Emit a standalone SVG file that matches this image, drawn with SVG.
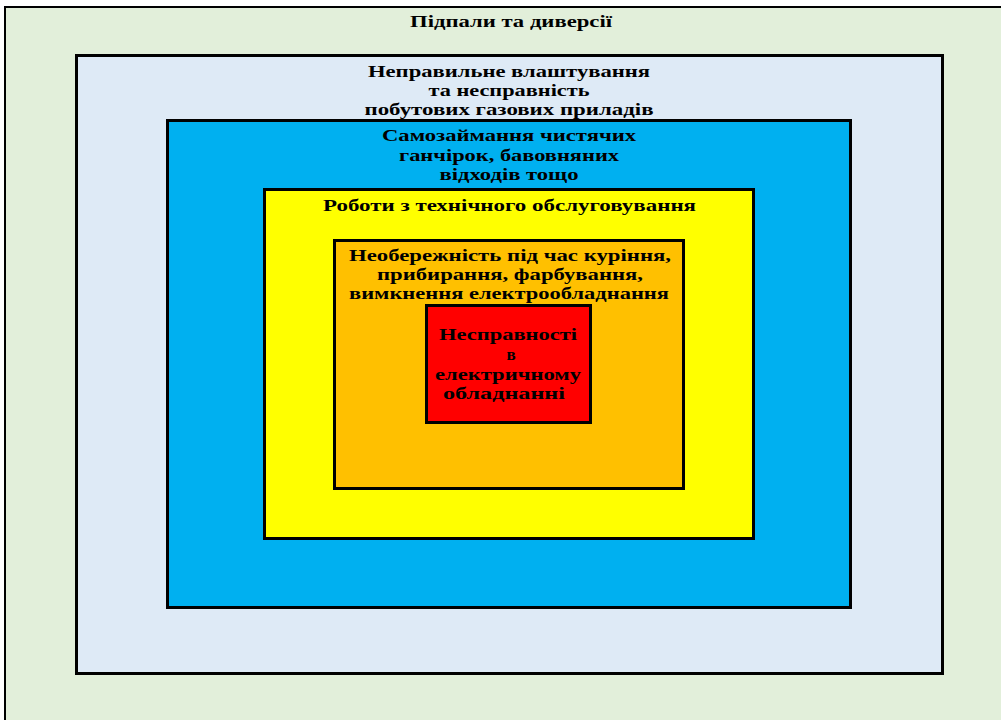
<svg xmlns="http://www.w3.org/2000/svg" width="1001" height="720" viewBox="0 0 1001 720">
<style>
.box{stroke:#000;stroke-width:3}
.t{font-family:"Liberation Serif","Times New Roman",serif;font-weight:bold;font-size:17px;text-anchor:middle;fill:#000}
</style>
<rect width="1001" height="720" fill="#ffffff"/>
<g id="n-outer">
<rect x="5" y="7" width="1010" height="730" fill="#E2EFDA" stroke="#000" stroke-width="2"/>
<text class="t" x="511" y="27" textLength="202" lengthAdjust="spacingAndGlyphs">Підпали та диверсії</text>
</g>
<g id="n-gas">
<rect class="box" x="76.5" y="55.5" width="866" height="618" fill="#DEEAF6"/>
<text class="t" x="509" y="77" textLength="282" lengthAdjust="spacingAndGlyphs">Неправильне влаштування</text>
<text class="t" x="509" y="96" textLength="161" lengthAdjust="spacingAndGlyphs">та несправність</text>
<text class="t" x="509" y="115" textLength="289" lengthAdjust="spacingAndGlyphs">побутових газових приладів</text>
</g>
<g id="n-rags">
<rect class="box" x="167.5" y="120.5" width="683" height="487" fill="#00B0F0"/>
<text class="t" x="509" y="141" textLength="254" lengthAdjust="spacingAndGlyphs">Самозаймання чистячих</text>
<text class="t" x="509" y="161" textLength="220" lengthAdjust="spacingAndGlyphs">ганчірок, бавовняних</text>
<text class="t" x="509" y="180" textLength="139" lengthAdjust="spacingAndGlyphs">відходів тощо</text>
</g>
<g id="n-maint">
<rect class="box" x="264.5" y="189.5" width="489" height="349" fill="#FFFF00"/>
<text class="t" x="509.5" y="211" textLength="373" lengthAdjust="spacingAndGlyphs">Роботи з технічного обслуговування</text>
</g>
<g id="n-careless">
<rect class="box" x="334.5" y="240.5" width="349" height="248" fill="#FFC000"/>
<text class="t" x="510" y="261" textLength="322" lengthAdjust="spacingAndGlyphs">Необережність під час куріння,</text>
<text class="t" x="510" y="280" textLength="266" lengthAdjust="spacingAndGlyphs">прибирання, фарбування,</text>
<text class="t" x="509" y="299" textLength="320" lengthAdjust="spacingAndGlyphs">вимкнення електрообладнання</text>
</g>
<g id="n-electric">
<rect class="box" x="426.5" y="305.5" width="164" height="117" fill="#FF0000"/>
<text class="t" x="508" y="340" textLength="138" lengthAdjust="spacingAndGlyphs">Несправності</text>
<text class="t" x="511" y="360">в</text>
<text class="t" x="508" y="380" textLength="146" lengthAdjust="spacingAndGlyphs">електричному</text>
<text class="t" x="504" y="399" textLength="122" lengthAdjust="spacingAndGlyphs">обладнанні</text>
</g>
<g id="connectors"/>
</svg>
